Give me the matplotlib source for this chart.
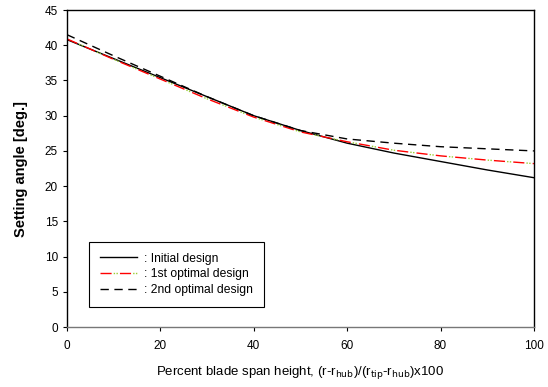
import numpy as np
import matplotlib.pyplot as plt
from matplotlib.legend_handler import HandlerTuple

plt.rcParams['font.family'] = ['Liberation Sans', 'DejaVu Sans']

# Datos
span = [0, 10, 20, 30, 40, 50, 60, 70, 80, 90, 100]
initial = [40.8, 38.1, 35.4, 32.7, 30.0, 27.9, 26.1, 24.7, 23.5, 22.3, 21.2]
opt1 = [40.9, 38.0, 35.2, 32.4, 29.8, 27.7, 26.3, 25.1, 24.3, 23.7, 23.2]
opt2 = [41.5, 38.5, 35.6, 32.7, 30.0, 27.9, 26.7, 26.1, 25.6, 25.3, 25.0]

x_ticks = [0, 20, 40, 60, 80, 100]
y_ticks = [0, 5, 10, 15, 20, 25, 30, 35, 40, 45]

fig = plt.figure(figsize=(5.48, 3.87), dpi=100)
ax = fig.add_axes([0.1223, 0.155, 0.852, 0.819])

l0, = ax.plot(span, initial, color='black', linewidth=1.0)
# 1a optima: guiones rojos con puntos verdes en los huecos
l1r, = ax.plot(span, opt1, color='red', linewidth=1.0, linestyle=(0, (8, 6)))
l1g, = ax.plot(span, opt1, color='#9acd32', linewidth=1.0, linestyle=(4.5, (1, 1, 1, 11)))
l2, = ax.plot(span, opt2, color='black', linewidth=1.0, linestyle=(0, (6, 4)))

ax.set_xlim(0, 100)
ax.set_ylim(0, 45)
ax.set_xticks(x_ticks)
ax.set_yticks(y_ticks)
ax.tick_params(direction='out', length=3, labelsize=8.5, width=0.8)
ax.tick_params(axis='x', pad=6)
for s in ax.spines.values():
    s.set_linewidth(1.0)
ax.spines['bottom'].set_color('#777777')

ax.set_xlabel('Percent blade span height, (r-r$_{\\mathrm{hub}}$)/(r$_{\\mathrm{tip}}$-r$_{\\mathrm{hub}}$)x100',
              fontsize=9.5, labelpad=9)
ax.set_ylabel('Setting angle [deg.]', fontsize=10.5, fontweight='bold', labelpad=12)

leg = ax.legend([l0, (l1r, l1g), l2],
                [': Initial design', ': 1st optimal design', ': 2nd optimal design'],
                handler_map={tuple: HandlerTuple(ndivide=1, pad=0)},
                loc='lower left', bbox_to_anchor=(0.035, 0.045), fontsize=8.7,
                frameon=True, fancybox=False, edgecolor='black', framealpha=1,
                handlelength=3.0, handletextpad=0.6, borderpad=0.9, labelspacing=0.3)
leg.get_frame().set_linewidth(0.8)

fig.savefig('out.png', dpi=100)
